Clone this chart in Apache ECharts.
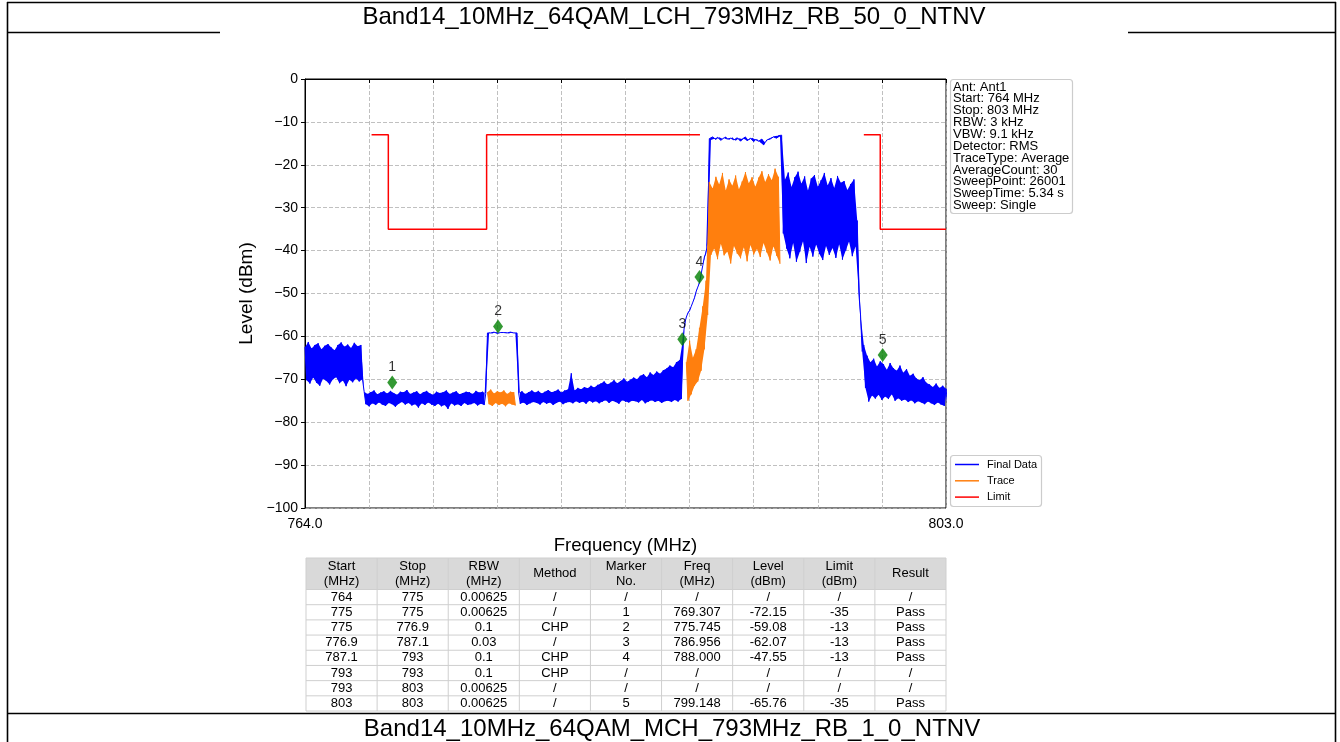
<!DOCTYPE html>
<html><head><meta charset="utf-8">
<script src="https://cdn.jsdelivr.net/npm/echarts@6/dist/echarts.min.js"></script>
<style>html,body{margin:0;padding:0;background:#fff;}#c{width:1340px;height:742px;}</style>
</head><body><div id="c"></div>
<script>
// ---------------- data ----------------
const titleTop = 'Band14_10MHz_64QAM_LCH_793MHz_RB_50_0_NTNV';
const titleBottom = 'Band14_10MHz_64QAM_MCH_793MHz_RB_1_0_NTNV';
const freqMin = 764.0, freqMax = 803.0, freqTick = 3.9;
const levelMin = -100, levelMax = 0, levelTick = 10;

// Final Data: sweep samples every 0.2 MHz from 764.0; hi = value at f, lo = value at f+0.1
const finalStart = 764.0, finalStep = 0.2;
const finalHi = [
-62.5,-61.3,-62.8,-62.0,-61.6,-63.0,-62.2,-61.8,-62.6,-63.2,
-62.0,-61.4,-62.4,-61.9,-62.7,-61.5,-62.3,-62.0,-72.9,-73.4,
-73.0,-72.6,-73.5,-73.1,-72.8,-73.3,-72.7,-73.2,-73.6,-72.9,
-73.0,-72.5,-73.4,-73.1,-72.8,-73.5,-73.0,-72.7,-73.3,-73.6,
-72.9,-73.2,-73.0,-72.6,-73.4,-73.1,-72.8,-73.5,-73.2,-72.9,
-73.0,-73.4,-72.7,-73.1,-72.9,-73.3,-59.1,-59.3,-59.0,-59.2,
-59.2,-59.0,-59.3,-59.1,-59.2,-73.2,-72.8,-73.4,-73.0,-72.6,
-73.1,-72.7,-73.3,-72.9,-72.5,-73.0,-72.8,-72.4,-73.1,-72.6,
-72.4,-68.6,-72.6,-72.0,-72.3,-71.8,-72.1,-71.5,-71.9,-71.3,
-71.0,-70.5,-71.2,-70.8,-70.2,-70.9,-70.4,-69.8,-70.6,-70.1,
-69.6,-70.0,-69.2,-68.8,-69.5,-68.4,-69.0,-68.2,-68.7,-67.9,
-67.5,-66.8,-67.2,-66.0,-65.5,-60.5,-55.5,-54.0,-52.0,-49.5,
-47.5,-43.5,-40.5,-13.9,-13.5,-14.1,-13.6,-13.9,-13.4,-14.2,
-13.6,-14.4,-13.8,-14.0,-13.5,-14.3,-13.7,-14.1,-14.5,-14.0,
-14.8,-13.9,-13.6,-13.3,-13.2,-13.1,-23.5,-21.8,-25.2,-22.9,
-21.6,-24.4,-22.7,-26.0,-23.2,-22.4,-25.1,-23.6,-21.9,-24.8,
-23.1,-25.4,-22.6,-24.2,-23.8,-25.9,-24.5,-23.4,-33.0,-55.0,
-62.0,-64.5,-66.0,-65.2,-67.0,-65.8,-66.5,-67.8,-66.2,-67.4,
-68.0,-66.8,-68.5,-67.6,-69.2,-68.7,-69.8,-70.2,-69.5,-70.8,
-71.2,-71.8,-71.0,-72.0,-71.5,-72.2];
const finalLo = [
-70.2,-71.0,-69.6,-70.8,-71.5,-69.9,-70.4,-71.2,-70.0,-69.5,
-70.9,-70.3,-71.6,-70.1,-70.7,-69.8,-70.5,-70.0,-75.8,-76.3,
-75.6,-76.0,-75.4,-75.9,-76.2,-75.5,-75.8,-76.4,-75.7,-75.3,
-75.9,-75.5,-76.1,-75.8,-76.6,-75.6,-76.0,-75.4,-75.9,-76.2,
-75.7,-76.3,-76.0,-76.9,-75.6,-76.1,-75.8,-76.2,-75.5,-76.0,
-75.8,-75.5,-76.1,-75.7,-76.0,-59.2,-59.2,-59.0,-59.3,-59.1,
-59.1,-59.2,-59.0,-59.2,-59.2,-75.7,-75.4,-76.0,-75.6,-75.3,
-75.5,-75.9,-75.3,-75.7,-75.4,-76.0,-75.5,-75.2,-75.8,-75.4,
-75.3,-75.6,-75.1,-75.5,-75.2,-75.7,-75.0,-75.4,-75.1,-75.6,
-75.2,-74.9,-75.5,-75.0,-75.3,-75.7,-74.9,-75.2,-75.4,-75.0,
-75.1,-75.4,-74.8,-75.6,-75.2,-74.9,-75.3,-75.0,-75.5,-75.1,
-75.0,-75.3,-74.8,-75.2,-74.6,-57.0,-54.5,-53.0,-51.0,-48.5,
-45.5,-41.5,-38.0,-14.2,-13.9,-13.6,-14.3,-13.7,-14.0,-13.8,
-14.2,-13.7,-14.5,-13.9,-14.4,-13.8,-14.6,-14.0,-14.8,-15.4,
-14.2,-14.0,-13.5,-13.8,-13.4,-36.0,-39.5,-41.8,-38.2,-42.6,
-40.3,-37.8,-42.9,-39.1,-41.4,-38.6,-40.8,-42.2,-38.9,-41.0,
-39.4,-41.7,-38.5,-42.1,-40.0,-37.9,-41.3,-39.0,-50.0,-63.5,
-72.0,-75.2,-73.8,-74.5,-73.6,-74.8,-74.0,-74.6,-73.5,-75.0,
-74.4,-75.0,-74.7,-75.3,-74.9,-75.6,-75.1,-75.4,-75.8,-75.2,
-75.6,-76.0,-75.4,-75.9,-76.2,-75.7];

// Trace (orange) in the two CHP ranges
const trace1Start = 775.1, traceStep = 0.2;
const trace1Hi = [-73.0,-72.4,-73.3,-72.8,-73.1,-72.6,-73.4,-72.9,-73.0];
const trace1Lo = [-75.8,-76.2,-75.5,-76.0,-75.7,-76.3,-75.6,-75.9,-76.1];
const trace2Start = 787.2;
const trace2Hi = [-66.0,-61.0,-65.0,-63.0,-58.0,-53.0,-47.0,-24.0,
-25.5,-22.8,-24.6,-21.9,-26.0,-23.4,-24.9,-22.5,-25.7,-23.9,-21.7,-24.3,-22.9,-25.1,-23.0,-21.5,-24.0,-22.2,-23.6,-20.9,-22.8];
const trace2Lo = [-75.0,-73.5,-71.5,-70.5,-68.0,-63.0,-55.0,-41.0,
-39.5,-42.0,-38.4,-41.1,-40.2,-43.0,-38.9,-40.7,-41.8,-39.2,-42.5,-38.7,-40.9,-39.6,-41.5,-38.2,-40.4,-42.3,-39.0,-41.2,-43.1];

// Limit line (two pieces)
const limit1Freq = [768.05, 769.07, 769.07, 775.05, 775.05, 788.03];
const limit1Level = [-13, -13, -35, -35, -13, -13];
const limit2Freq = [798.0, 799.0, 799.0, 803.0];
const limit2Level = [-13, -13, -35, -35];

// Markers
const markerNo = ['1', '2', '3', '4', '5'];
const markerFreq = [769.307, 775.745, 786.956, 788.000, 799.148];
const markerLevel = [-72.15, -59.08, -62.07, -47.55, -65.76];

const infoLines = ['Ant: Ant1', 'Start: 764 MHz', 'Stop: 803 MHz', 'RBW: 3 kHz', 'VBW: 9.1 kHz',
  'Detector: RMS', 'TraceType: Average', 'AverageCount: 30', 'SweepPoint: 26001', 'SweepTime: 5.34 s', 'Sweep: Single'];
const legendNames = ['Final Data', 'Trace', 'Limit'];
const legendColors = ['#0000ff', '#ff7f0e', '#ff0000'];

const tableHeader = [['Start', '(MHz)'], ['Stop', '(MHz)'], ['RBW', '(MHz)'], ['Method'], ['Marker', 'No.'],
  ['Freq', '(MHz)'], ['Level', '(dBm)'], ['Limit', '(dBm)'], ['Result']];
const tableRows = [
  ['764', '775', '0.00625', '/', '/', '/', '/', '/', '/'],
  ['775', '775', '0.00625', '/', '1', '769.307', '-72.15', '-35', 'Pass'],
  ['775', '776.9', '0.1', 'CHP', '2', '775.745', '-59.08', '-13', 'Pass'],
  ['776.9', '787.1', '0.03', '/', '3', '786.956', '-62.07', '-13', 'Pass'],
  ['787.1', '793', '0.1', 'CHP', '4', '788.000', '-47.55', '-13', 'Pass'],
  ['793', '793', '0.1', 'CHP', '/', '/', '/', '/', '/'],
  ['793', '803', '0.00625', '/', '/', '/', '/', '/', '/'],
  ['803', '803', '0.00625', '/', '5', '799.148', '-65.76', '-35', 'Pass']
];

// ---------------- build ----------------
const FONT = '"Liberation Sans", Arial, sans-serif';
const r3 = v => Math.round(v * 1000) / 1000;
const xSpan = r3(freqMax - freqMin);
function bandPoints(start, step, hi, lo) {
  const pts = [];
  const n = Math.min(hi.length, lo.length);
  for (let i = 0; i < n; i++) {
    const f = start + i * step;
    pts.push([r3(f - freqMin), hi[i]]);
    pts.push([r3(f + step / 2 - freqMin), lo[i]]);
  }
  return pts;
}
const pair = (xs, ys) => xs.map((x, i) => [r3(x - freqMin), ys[i]]);

// filled envelope between the upper (hi) and lower (lo) samples, mapped through the axes
function bandFill(name, start, step, hi, lo, color, z) {
  return {
    type: 'custom', name, z, silent: true, animation: false,
    data: [[0, levelMin]],
    renderItem: (params, api) => {
      const n = Math.min(hi.length, lo.length);
      const pts = [];
      for (let i = 0; i < n; i++) {
        const x = r3(start + i * step - freqMin);
        if (x <= xSpan) pts.push(api.coord([x, hi[i]]));
      }
      for (let i = n - 1; i >= 0; i--) {
        const x = r3(start + i * step + step / 2 - freqMin);
        if (x <= xSpan) pts.push(api.coord([x, lo[i]]));
      }
      return {type: 'polygon', shape: {points: pts}, style: {fill: color, stroke: null}};
    }
  };
}

const G = {left: 305, top: 79, width: 641, height: 429};
const graphics = [];
const line = (x1, y1, x2, y2, w, c) => graphics.push({type: 'line', silent: true, z: 100,
  shape: {x1, y1, x2, y2}, style: {stroke: c || '#000', lineWidth: w || 1}});
const text = (t, x, y, size, align) => graphics.push({type: 'text', silent: true, z: 101,
  style: {text: t, x, y, fontSize: size, fontFamily: FONT, fill: '#000', align: align || 'left', verticalAlign: 'middle'}});

// page frame
line(7, 2.5, 1336, 2.5, 1.6);
line(7.5, 2, 7.5, 742, 1.6);
line(1335.5, 2, 1335.5, 742, 1.6);
line(7, 32.5, 220, 32.5, 1.6);
line(1128, 32.5, 1336, 32.5, 1.6);
line(7, 713.5, 1336, 713.5, 1.6);
text(titleTop, 674, 17, 24, 'center');
text(titleBottom, 672, 729, 24, 'center');

// info box
graphics.push({type: 'rect', silent: true, z: 100, shape: {x: 950.5, y: 79.5, width: 122, height: 134, r: 3},
  style: {fill: '#fff', stroke: '#cccccc', lineWidth: 1.2}});
infoLines.forEach((t, i) => text(t, 953, 87 + i * 11.85, 13));

// legend box
graphics.push({type: 'rect', silent: true, z: 100, shape: {x: 950.5, y: 455.5, width: 91, height: 51, r: 3},
  style: {fill: '#fff', stroke: '#cccccc', lineWidth: 1.2}});
legendNames.forEach((t, i) => {
  const y = 464.5 + i * 16.3;
  line(955, y, 979, y, 1.5, legendColors[i]);
  text(t, 987, y, 11);
});

// table
const tX = 306, tW = 640, colW = tW / 9, hTop = 558, hH = 31.5, rowH = 15.19;
graphics.push({type: 'rect', silent: true, z: 99, shape: {x: tX, y: hTop, width: tW, height: hH}, style: {fill: '#d9d9d9'}});
for (let c = 0; c <= 9; c++) line(tX + c * colW, hTop, tX + c * colW, hTop + hH + 8 * rowH, 1, '#cfcfcf');
for (let r = 0; r <= 8; r++) line(tX, hTop + hH + r * rowH, tX + tW, hTop + hH + r * rowH, 1, '#cfcfcf');
line(tX, hTop, tX + tW, hTop, 1, '#cfcfcf');
tableHeader.forEach((h, c) => {
  const cx = tX + (c + 0.5) * colW;
  if (h.length === 2) { text(h[0], cx, hTop + 8.5, 13, 'center'); text(h[1], cx, hTop + 23, 13, 'center'); }
  else text(h[0], cx, hTop + hH / 2, 13, 'center');
});
tableRows.forEach((row, r) => row.forEach((v, c) => text(v, tX + (c + 0.5) * colW, hTop + hH + (r + 0.5) * rowH, 13, 'center')));

const chart = echarts.init(document.getElementById('c'), null, {renderer: 'canvas'});
const lineSeries = (name, data, color, z, w) => ({type: 'line', name, data, showSymbol: false, symbol: 'none',
  lineStyle: {color, width: w || 1}, itemStyle: {color}, z, animation: false, sampling: null, clip: true});

chart.setOption({
  animation: false,
  textStyle: {fontFamily: FONT},
  grid: Object.assign({show: true, borderColor: '#000', borderWidth: 1, backgroundColor: '#fff'}, G),
  xAxis: {
    type: 'value', min: 0, max: xSpan, interval: freqTick,
    name: 'Frequency (MHz)', nameLocation: 'middle', nameGap: 28,
    nameTextStyle: {fontSize: 18.6, color: '#000'},
    axisLine: {lineStyle: {color: '#000', width: 1}},
    axisTick: {show: true, length: 4, lineStyle: {color: '#000'}},
    axisLabel: {fontSize: 14, color: '#000', margin: 9, showMinLabel: true, showMaxLabel: true,
      formatter: v => (Math.abs(v) < 1e-6 || Math.abs(v - xSpan) < 1e-6) ? (v + freqMin).toFixed(1) : ''},
    splitLine: {show: true, lineStyle: {color: '#b0b0b0', type: [4, 2], width: 0.8}}
  },
  yAxis: {
    type: 'value', min: levelMin, max: levelMax, interval: levelTick,
    name: 'Level (dBm)', nameLocation: 'middle', nameGap: 49, nameRotate: 90,
    nameTextStyle: {fontSize: 19, color: '#000'},
    axisLine: {show: true, lineStyle: {color: '#000', width: 1}},
    axisTick: {show: true, length: 4, lineStyle: {color: '#000'}},
    axisLabel: {fontSize: 14, color: '#000', margin: 7, formatter: v => String(v).replace('-', '\u2212')},
    splitLine: {show: true, lineStyle: {color: '#b0b0b0', type: [4, 2], width: 0.8}}
  },
  series: [
    bandFill('Final Data', finalStart, finalStep, finalHi, finalLo, '#0000ff', 2),
    lineSeries('Final Data', bandPoints(finalStart, finalStep, finalHi, finalLo), '#0000ff', 2),
    bandFill('Trace', trace1Start, traceStep, trace1Hi, trace1Lo, '#ff7f0e', 3),
    lineSeries('Trace', bandPoints(trace1Start, traceStep, trace1Hi, trace1Lo), '#ff7f0e', 3),
    bandFill('Trace', trace2Start, traceStep, trace2Hi, trace2Lo, '#ff7f0e', 3),
    lineSeries('Trace', bandPoints(trace2Start, traceStep, trace2Hi, trace2Lo), '#ff7f0e', 3),
    lineSeries('Limit', pair(limit1Freq, limit1Level), '#ff0000', 4, 1.5),
    lineSeries('Limit', pair(limit2Freq, limit2Level), '#ff0000', 4, 1.5),
    {type: 'scatter', name: 'Marker', z: 6, symbol: 'diamond', symbolSize: [10, 14], symbolOffset: [0, -6],
      itemStyle: {color: '#008000'},
      label: {show: true, position: 'top', distance: 1, fontSize: 14, color: '#000', formatter: p => markerNo[p.dataIndex]},
      data: pair(markerFreq, markerLevel), animation: false}
  ],
  graphic: graphics
});
</script></body></html>
